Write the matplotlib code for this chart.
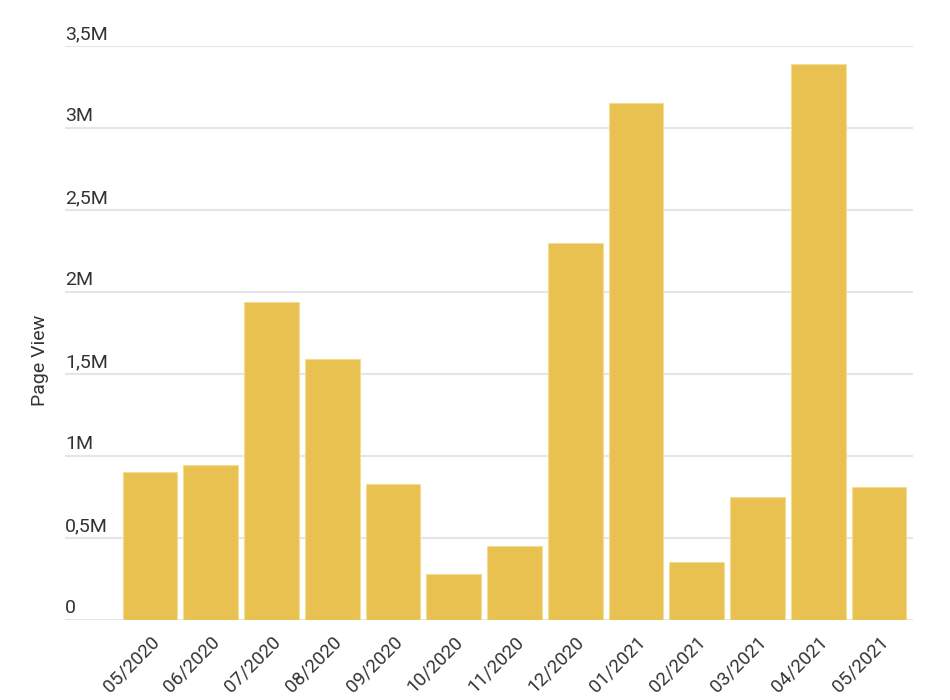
import numpy as np
import matplotlib.pyplot as plt

# Page views per month
mois = ['05/2020', '06/2020', '07/2020', '08/2020', '09/2020', '10/2020', '11/2020',
        '12/2020', '01/2021', '02/2021', '03/2021', '04/2021', '05/2021']
vues = [0.90e6, 0.945e6, 1.94e6, 1.59e6, 0.83e6, 0.28e6, 0.45e6,
        2.30e6, 3.15e6, 0.355e6, 0.75e6, 3.39e6, 0.81e6]
graduations = [0, 0.5e6, 1e6, 1.5e6, 2e6, 2.5e6, 3e6, 3.5e6]
etiquettes = ['0', '0,5M', '1M', '1,5M', '2M', '2,5M', '3M', '3,5M']

plt.rcParams['font.family'] = ['Roboto', 'DejaVu Sans']

fig = plt.figure(figsize=(9.5, 7), dpi=100)
ax = fig.add_axes([65/950, 80/700, 848/950, 574/700])

x = np.arange(len(mois))
ax.bar(x, vues, width=0.9, color='#E8C150', edgecolor='#F3DC95', linewidth=0.8, zorder=3)

# Grille horizontale + étiquettes au-dessus des lignes
for g, lab in zip(graduations, etiquettes):
    ax.axhline(g, color='#E6E6E6', linewidth=1.5, zorder=1)
    ax.text(-1.40, g + 0.018e6, lab, ha='left', va='bottom', fontsize=14,
            color='#333333', clip_on=False)

ax.set_xlim(-1.40, 12.56)
ax.set_ylim(0, 3.5e6)
ax.set_yticks([])
ax.set_xticks(x)
ax.set_xticklabels(mois, rotation=45, ha='right', rotation_mode='anchor',
                   fontsize=13.5, color='#333333')
ax.tick_params(axis='x', length=0, pad=9)
for s in ax.spines.values():
    s.set_visible(False)

fig.text(40/950, 1 - 360/700, 'Page View', rotation=90, ha='center', va='center',
         fontsize=14, color='#333333')

plt.savefig('out.png', dpi=100)
